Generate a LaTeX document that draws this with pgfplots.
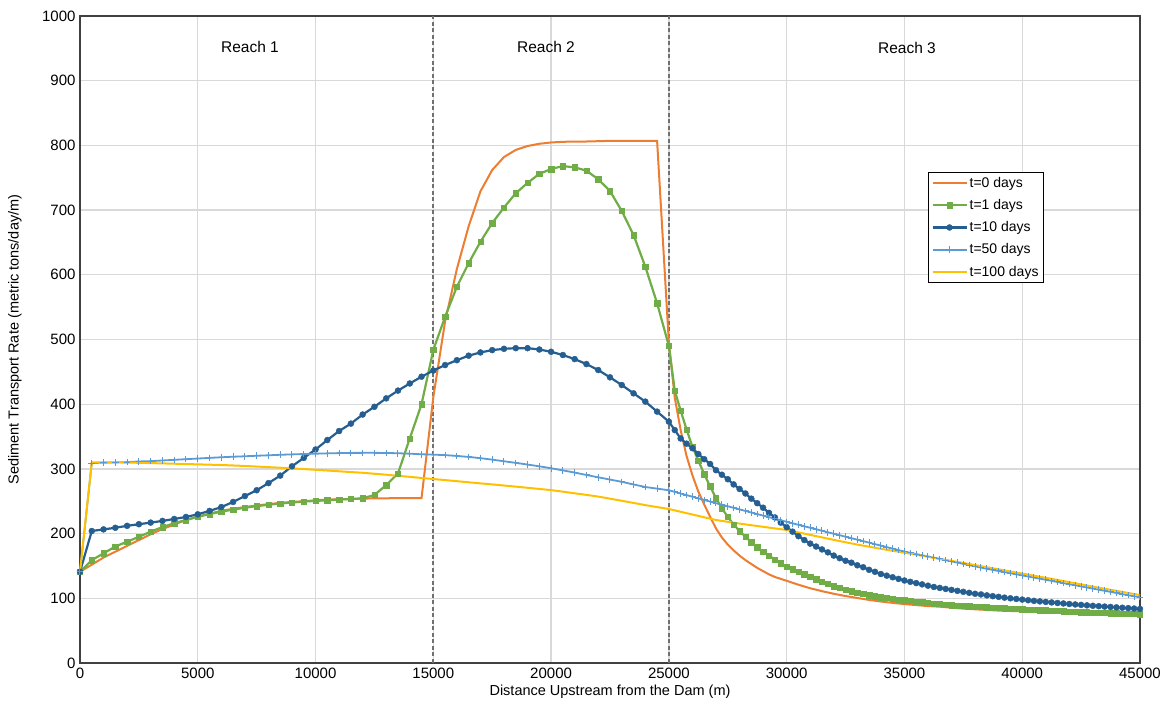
\documentclass[border=0pt]{standalone}
\usepackage{fontspec}
\setmainfont{Liberation Sans}
\usepackage{pgfplots}
\pgfplotsset{compat=1.18}
\definecolor{cOr}{HTML}{ED7D31}
\definecolor{cGr}{HTML}{70AD47}
\definecolor{cDb}{HTML}{255E91}
\definecolor{cLb}{HTML}{5B9BD5}
\definecolor{cYe}{HTML}{FFC000}
\definecolor{cGrid}{HTML}{D9D9D9}
\definecolor{cAx}{HTML}{404040}
\definecolor{cDash}{HTML}{707070}
\begin{document}
\begin{tikzpicture}
\useasboundingbox (-80pt,-48pt) rectangle (1085pt,663pt);
\begin{axis}[
  scale only axis, width=1060pt, height=647pt,
  xmin=0, xmax=45000, ymin=0, ymax=1000,
  xtick={0,5000,...,45000}, ytick={0,100,...,1000},
  scaled x ticks=false, scaled y ticks=false,
  major tick length=0pt,
  grid=major, grid style={cGrid, line width=1.3pt},
  axis line style={cAx, line width=1.5pt},
  /pgf/number format/assume math mode=true,
  /pgf/number format/1000 sep={},
  tick label style={font=\fontsize{15}{17}\selectfont, text=black},
  xticklabel style={yshift=-1pt},
  yticklabel style={xshift=-1pt},
  xlabel={Distance Upstream from the Dam (m)},
  ylabel={Sediment Transport Rate (metric tons/day/m)},
  every axis x label/.style={at={(axis description cs:0.5,0)}, yshift=-29pt, anchor=center, font=\fontsize{14.5}{17}\selectfont},
  every axis y label/.style={at={(axis description cs:0,0.5)}, xshift=-65pt, rotate=90, anchor=center, font=\fontsize{14.5}{17}\selectfont},
  clip=false,
  legend style={at={(rel axis cs:0.8,0.759)}, anchor=north west, draw=black, line width=0.9pt, fill=white,
    font=\fontsize{14}{16}\selectfont, row sep=6.5pt, inner sep=3pt, text=black},
  legend cell align=left,
  legend image code/.code={\draw[mark repeat=2,mark phase=2,#1] plot coordinates {(0pt,0pt)(17pt,0pt)(34pt,0pt)};},
]
\addplot[cDash, line width=1.8pt, dash pattern=on 4pt off 2.5pt, forget plot] coordinates {(15000,0)(15000,1000)};
\addplot[cDash, line width=1.8pt, dash pattern=on 4pt off 2.5pt, forget plot] coordinates {(25000,0)(25000,1000)};
% t=0
\addplot[cOr, line width=2pt, no marks] coordinates {
(0,141)(500,152)(1000,163)(1500,172)(2000,181)(2500,190)(3000,199)(3500,207)(4000,214)(4500,221)
(5000,226)(5500,231)(6000,235)(6500,238.5)(7000,241)(7500,243.5)(8000,245.5)(8500,247.5)(9000,249)(9500,250)
(10000,251.5)(10500,252.5)(11000,253)(11500,253.5)(12000,254)(12500,254.5)(13000,254.5)(13500,255)(14000,255)(14500,255)
(15000,411)(15500,528)(16000,609)(16500,675)(17000,729)(17500,762)(18000,782)(18500,793)(19000,799)(19500,802.5)
(20000,804.5)(20500,805.5)(21000,806)(21500,806)(22000,806.5)(22500,807)(23000,807)(23500,807)(24000,807)(24500,807)
(25000,495)(25250,410)(25500,360)(25750,320)(26000,290)(26250,265)(26500,245)(26750,226)(27000,208)(27250,194)
(27500,183)(27750,174)(28000,166)(28250,159)(28500,153)(28750,147)(29000,142)(29250,137)(29500,133)(29750,130)
(30000,127)(30500,121)(31000,115.5)(31500,111)(32000,107)(32500,103.5)(33000,100.5)(33500,97.5)(34000,95)(34500,93)
(35000,91)(35500,89.5)(36000,88)(36500,87)(37000,85.5)(37500,84)(38000,83)(38500,82)(39000,81)(40000,79.8)
(41000,78.6)(42000,77.4)(43000,76.2)(44000,75)(45000,74)};
\addlegendentry{t=0 days}
% t=1
\addplot[cGr, line width=2.2pt, mark=square*, mark size=2.7pt, mark options={solid, line width=0.4pt}] coordinates {
(0,141)(500,159)(1000,169.5)(1500,180)(2000,187.5)(2500,195)(3000,203)(3500,210)(4000,216)(4500,221)
(5000,226)(5500,230)(6000,234)(6500,237)(7000,240)(7500,242.5)(8000,244.5)(8500,246.5)(9000,248)(9500,249.5)
(10000,250.5)(10500,251.5)(11000,252.5)(11500,253.5)(12000,254.5)(12500,259.7)(13000,275)(13500,293)(14000,347)(14500,400)
(15000,484)(15500,535)(16000,581.6)(16500,618)(17000,651)(17500,680)(18000,704)(18500,726)(19000,742)(19500,756)
(20000,763.5)(20500,768)(21000,766)(21500,761)(22000,747.6)(22500,729.5)(23000,698.6)(23500,661.5)(24000,612.5)(24500,556)
(25000,490)(25250,421)(25500,390)(25750,361)(26000,334)(26250,313)(26500,292)(26750,273)(27000,255)(27250,239)
(27500,226)(27750,214)(28000,204)(28250,195)(28500,187)(28750,179)(29000,172)(29250,166)(29500,160)(29750,154)
(30000,149)(30250,145)(30500,141)(30750,137)(31000,133)(31250,129.5)(31500,126)(31750,122.5)(32000,119)(32250,116)
(32500,113.5)(32750,111)(33000,109)(33250,107)(33500,105)(33750,103.5)(34000,102)(34250,100.5)(34500,99)(34750,98)
(35000,97)(35250,96)(35500,95)(35750,94)(36000,93)(36250,92)(36500,91.2)(36750,90.4)(37000,89.6)(37250,89)
(37500,88.4)(37750,87.8)(38000,87.3)(38250,86.8)(38500,86.3)(38750,85.8)(39000,85.3)(39250,84.8)(39500,84.3)(39750,83.8)
(40000,83.3)(40250,82.8)(40500,82.3)(40750,81.8)(41000,81.3)(41250,80.8)(41500,80.4)(41750,80)(42000,79.6)(42250,79.2)
(42500,78.8)(42750,78.4)(43000,78)(43250,77.7)(43500,77.4)(43750,77.1)(44000,76.8)(44250,76.5)(44500,76.2)(44750,75.9)
(45000,75.6)};
\addlegendentry{t=1 days}
% t=10
\addplot[cDb, line width=2.2pt, mark=*, mark size=3pt, mark options={solid, line width=0.4pt}] coordinates {
(0,141)(500,204)(1000,206.5)(1500,209)(2000,212)(2500,214.5)(3000,217)(3500,219.6)(4000,222.6)(4500,225.7)
(5000,229.8)(5500,235)(6000,241)(6500,248.9)(7000,258)(7500,267)(8000,278)(8500,289.6)(9000,304)(9500,317)
(10000,330)(10500,344.6)(11000,358.5)(11500,370)(12000,384)(12500,396)(13000,409)(13500,421)(14000,432)(14500,442.5)
(15000,452)(15500,460.5)(16000,468)(16500,475)(17000,480)(17500,483.6)(18000,485.6)(18500,486.6)(19000,486.6)(19500,484.5)
(20000,481)(20500,476)(21000,469.7)(21500,462)(22000,452.8)(22500,441.5)(23000,429.6)(23500,416.8)(24000,404)(24500,388.5)
(25000,373)(25250,360)(25500,347)(25750,339)(26000,332)(26250,323)(26500,315)(26750,307.6)(27000,298)(27250,291)
(27500,284)(27750,276)(28000,269)(28250,262)(28500,254)(28750,247)(29000,240)(29250,232)(29500,225)(29750,217)
(30000,210)(30250,203)(30500,196)(30750,190)(31000,184.5)(31250,180)(31500,175.5)(31750,171)(32000,166)(32250,162)
(32500,158)(32750,155)(33000,151)(33250,148)(33500,144)(33750,141)(34000,137.5)(34250,135)(34500,132.5)(34750,130)
(35000,127.5)(35250,125.5)(35500,123.5)(35750,121.5)(36000,119.5)(36250,117.5)(36500,116)(36750,114.5)(37000,113)(37250,111.5)
(37500,110)(37750,108.5)(38000,107)(38250,106)(38500,104.5)(38750,103.3)(39000,102.2)(39250,101)(39500,100)(39750,99)
(40000,98)(40250,97)(40500,96)(40750,95.2)(41000,94.4)(41250,93.6)(41500,92.8)(41750,92)(42000,91.2)(42250,90.5)
(42500,89.8)(42750,89.1)(43000,88.4)(43250,87.8)(43500,87.2)(43750,86.6)(44000,86)(44250,85.4)(44500,84.8)(44750,84.2)
(45000,83.6)};
\addlegendentry{t=10 days}
% t=50
\addplot[cLb, line width=1.8pt, mark=+, mark size=3.3pt, mark options={solid, line width=1pt}] coordinates {
(0,141)(500,309)(1000,309.6)(1500,310)(2000,310.5)(2500,311.5)(3000,312)(3500,313)(4000,314)(4500,315)
(5000,316)(5500,317)(6000,318)(6500,318.8)(7000,319.5)(7500,320.3)(8000,321)(8500,321.8)(9000,322.4)(9500,323)
(10000,323.5)(10500,324)(11000,324.4)(11500,324.7)(12000,324.8)(12500,324.8)(13000,324.6)(13500,324.2)(14000,323.5)(14500,322.6)
(15000,322)(15500,321.3)(16000,320)(16500,318.5)(17000,316.6)(17500,314.3)(18000,311.8)(18500,309.3)(19000,306.7)(19500,304)
(20000,301)(20500,297.7)(21000,294.3)(21500,290.6)(22000,287)(22500,283.5)(23000,280)(23500,276)(24000,272)(24500,269.5)
(25000,267)(25250,264.5)(25500,262)(25750,259.5)(26000,257)(26250,254.5)(26500,252)(26750,249.5)(27000,247)(27250,244.6)
(27500,242.2)(27750,239.8)(28000,237.4)(28250,235)(28500,232.6)(28750,230.2)(29000,227.8)(29250,225.4)(29500,223)(29750,220.6)
(30000,218.2)(30250,215.9)(30500,213.6)(30750,211.3)(31000,209)(31250,206.7)(31500,204.4)(31750,202.1)(32000,199.8)(32250,197.5)
(32500,195.2)(32750,192.9)(33000,190.6)(33250,188.3)(33500,186)(33750,183.7)(34000,181.4)(34250,179.1)(34500,176.8)(34750,174.5)
(35000,172.2)(35250,170.3)(35500,168.4)(35750,166.5)(36000,164.6)(36250,162.7)(36500,160.8)(36750,158.9)(37000,157)(37250,155.1)
(37500,153.2)(37750,151.3)(38000,149.4)(38250,147.5)(38500,145.6)(38750,143.9)(39000,142.2)(39250,140.5)(39500,138.8)(39750,137.1)
(40000,135.4)(40250,133.7)(40500,132)(40750,130.3)(41000,128.6)(41250,126.9)(41500,125.2)(41750,123.5)(42000,121.8)(42250,120.1)
(42500,118.4)(42750,116.7)(43000,115)(43250,113.3)(43500,111.6)(43750,109.9)(44000,108.2)(44250,106.5)(44500,104.8)(44750,103.1)
(45000,101.8)};
\addlegendentry{t=50 days}
% t=100
\addplot[cYe, line width=2pt, no marks] coordinates {
(0,141)(500,310)(1000,310)(1500,310)(2000,309.8)(2500,309.4)(3000,309)(3500,308.5)(4000,308)(4500,307.5)
(5000,307)(5500,306.5)(6000,306)(6500,305.3)(7000,304.5)(7500,303.6)(8000,302.7)(8500,301.8)(9000,300.8)(9500,299.7)
(10000,298.6)(10500,297.5)(11000,296.3)(11500,295.1)(12000,294)(12500,292.5)(13000,291)(13500,289.3)(14000,287.7)(14500,286)
(15000,284.3)(15500,282.7)(16000,281)(16500,279.3)(17000,277.6)(17500,276)(18000,274.3)(18500,272.6)(19000,270.8)(19500,269)
(20000,267.2)(20500,264.8)(21000,262.3)(21500,259.8)(22000,257.2)(22500,254)(23000,250.7)(23500,247.4)(24000,244)(24500,241)
(25000,238)(25500,233.7)(26000,229.5)(26500,225.2)(27000,221)(28000,215.5)(29000,210.5)(30000,205.6)(31000,198)(32000,190.3)
(33000,183)(34000,176.5)(35000,170.5)(36000,164.2)(37000,157.8)(38000,151.3)(39000,144.7)(40000,138.2)(41000,131.6)(42000,125)
(43000,118)(44000,111.5)(45000,105)};
\addlegendentry{t=100 days}
\node[font=\fontsize{15.5}{17}\selectfont] at (axis cs:7217,952) {Reach 1};
\node[font=\fontsize{15.5}{17}\selectfont] at (axis cs:19783,952) {Reach 2};
\node[font=\fontsize{15.5}{17}\selectfont] at (axis cs:35108,950) {Reach 3};
\end{axis}
\end{tikzpicture}
\end{document}
